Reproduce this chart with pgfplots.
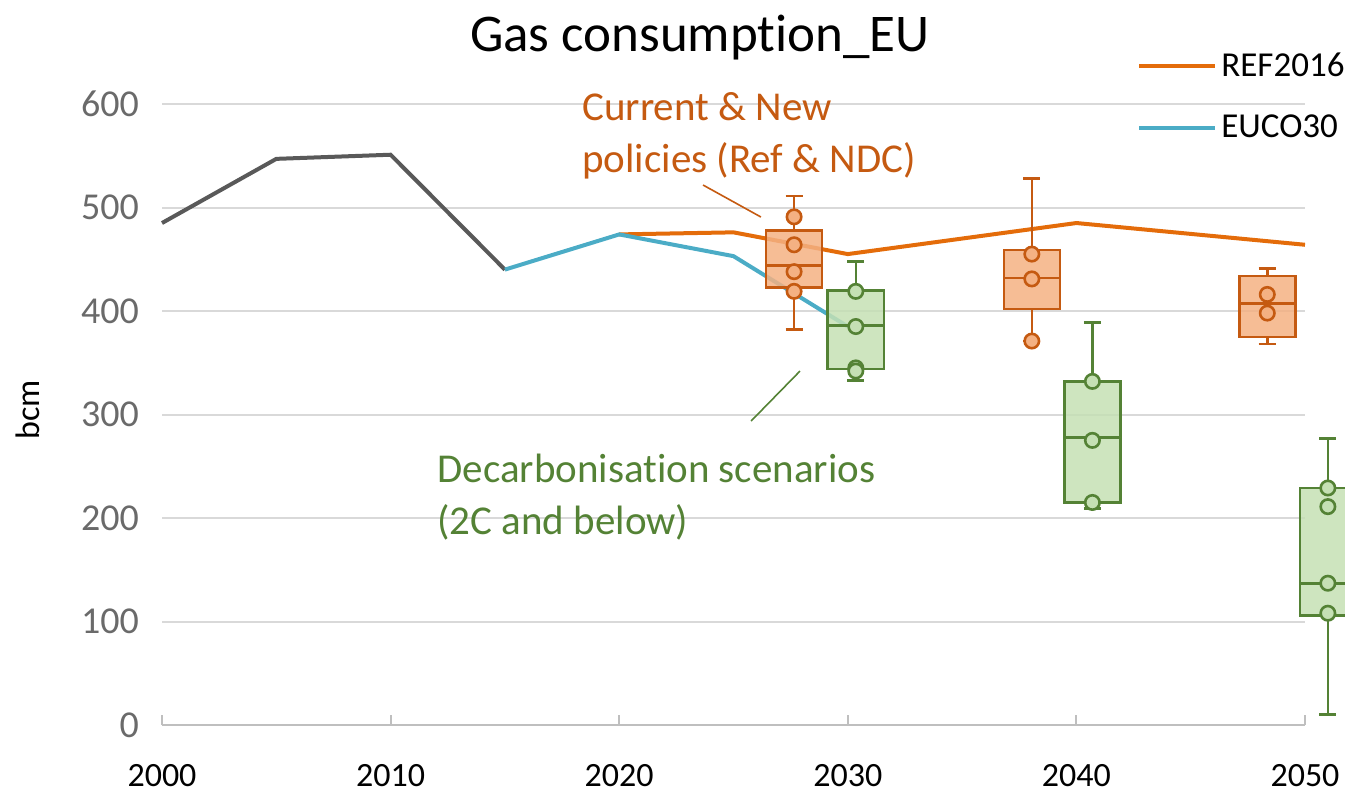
\documentclass[border=0pt]{standalone}
\usepackage{pgfplots}
\pgfplotsset{compat=1.18}
\usepgfplotslibrary{statistics}
\usepackage{fontspec}
\setmainfont{Carlito}[Ligatures={NoCommon,NoContextual,NoRequired}]
\definecolor{refline}{RGB}{228,108,10}
\definecolor{obox}{RGB}{197,90,17}
\definecolor{ofill}{RGB}{244,177,131}
\definecolor{gbox}{RGB}{84,130,53}
\definecolor{gfill}{RGB}{197,224,180}
\definecolor{eucol}{RGB}{75,172,198}
\definecolor{histc}{RGB}{89,89,89}
\definecolor{gridc}{RGB}{217,217,217}
\definecolor{axc}{RGB}{191,191,191}
\begin{document}
\begin{tikzpicture}
\begin{axis}[
  at={(81pt,34pt)}, anchor=south west,
  scale only axis, width=571.5pt, height=310.5pt,
  xmin=2000, xmax=2050, ymin=0, ymax=600,
  clip=false,
  axis lines*=left,
  axis line style={-},
  x axis line style={draw=axc, line width=1pt},
  y axis line style={draw=none},
  xtick={2000,2010,...,2050}, ytick={0,100,...,600},
  xtick align=inside, major tick length=5pt,
  xtick style={draw=axc, line width=1pt},
  ytick style={draw=none},
  ymajorgrids, grid style={gridc, line width=1pt},
  /pgf/number format/assume math mode=true,
  /pgf/number format/1000 sep={},
  xticklabel style={font=\fontsize{17}{17}\selectfont, text=black, yshift=-16pt},
  yticklabel style={font=\fontsize{19}{19}\selectfont, text=histc!90, xshift=-8pt},
  legend style={at={(rel axis cs:0.853,1.09)}, anchor=north west, draw=none, fill=none,
     font=\fontsize{17.5}{17.5}\selectfont, row sep=14pt, inner sep=0pt},
  legend cell align=left,
  legend image code/.code={\draw[#1] (0pt,0pt) -- (38pt,0pt);},
]
% historical
\addplot[histc, line width=2pt, forget plot] coordinates {(2000,485) (2005,547) (2010,551) (2015,440)};
\addplot[refline, line width=2pt] coordinates {(2020,474) (2025,476) (2030,455) (2040,485) (2050,464)};
\addlegendentry{REF2016}
\addplot[eucol, line width=2pt] coordinates {(2015,440) (2020,474) (2025,453) (2030,385)};
\addlegendentry{EUCO30}

% boxes
\pgfplotsset{
  obx/.style={draw=obox, fill=ofill, fill opacity=0.85, line width=1.3pt, forget plot},
  gbx/.style={draw=gbox, fill=gfill, fill opacity=0.85, line width=1.3pt, forget plot},
  omk/.style={only marks, mark=*, mark size=3.6pt, mark options={draw=obox, fill=ofill, line width=1.3pt}, forget plot},
  gmk/.style={only marks, mark=*, mark size=3.6pt, mark options={draw=gbox, fill=gfill, line width=1.3pt}, forget plot},
}
\addplot[obx, boxplot prepared={draw direction=y, draw position=2027.65, lower whisker=382, lower quartile=423, median=444, upper quartile=478, upper whisker=511, box extend=2.45, whisker extend=0.75}] coordinates {};
\addplot[omk] coordinates {(2027.65,491) (2027.65,464) (2027.65,438) (2027.65,419)};

\addplot[gbx, boxplot prepared={draw direction=y, draw position=2030.35, lower whisker=333, lower quartile=344, median=386, upper quartile=420, upper whisker=448, box extend=2.45, whisker extend=0.75}] coordinates {};
\addplot[gmk] coordinates {(2030.35,419) (2030.35,385) (2030.35,345) (2030.35,342)};

\addplot[obx, boxplot prepared={draw direction=y, draw position=2038.05, lower whisker=371, lower quartile=402, median=432, upper quartile=459, upper whisker=528, box extend=2.45, whisker extend=0.75}] coordinates {};
\addplot[omk] coordinates {(2038.05,455) (2038.05,431) (2038.05,371)};

\addplot[gbx, boxplot prepared={draw direction=y, draw position=2040.7, lower whisker=209, lower quartile=215, median=278, upper quartile=332, upper whisker=389, box extend=2.45, whisker extend=0.75}] coordinates {};
\addplot[gmk] coordinates {(2040.7,332) (2040.7,275) (2040.7,215)};

\addplot[obx, boxplot prepared={draw direction=y, draw position=2048.35, lower whisker=368, lower quartile=375, median=407, upper quartile=434, upper whisker=441, box extend=2.45, whisker extend=0.75}] coordinates {};
\addplot[omk] coordinates {(2048.35,416) (2048.35,398)};

\addplot[gbx, boxplot prepared={draw direction=y, draw position=2051.0, lower whisker=10, lower quartile=106, median=137, upper quartile=229, upper whisker=277, box extend=2.45, whisker extend=0.75}] coordinates {};
\addplot[gmk] coordinates {(2051.0,229) (2051.0,211) (2051.0,137) (2051.0,108)};

\draw[obox, line width=0.8pt] (axis cs:2023.67,521.7) -- (axis cs:2026.2,490.8);
\draw[gbox, line width=0.8pt] (axis cs:2027.91,342) -- (axis cs:2025.77,293.7);
\end{axis}
\node[anchor=base, font=\fontsize{26.5}{26.5}\selectfont] at (350pt,370.5pt) {Gas consumption\_EU};
\node[rotate=90, font=\fontsize{17}{17}\selectfont] at (14pt,191.5pt) {bcm};
\node[anchor=base west, inner sep=0pt, text=obox, font=\fontsize{20.5}{20.5}\selectfont] at (291pt,336pt) {Current \& New};
\node[anchor=base west, inner sep=0pt, text=obox, font=\fontsize{20.5}{20.5}\selectfont] at (291pt,310pt) {policies (Ref \& NDC)};
\node[anchor=base west, inner sep=0pt, text=gbox, font=\fontsize{20.5}{20.5}\selectfont] at (218.5pt,155pt) {Decarbonisation scenarios};
\node[anchor=base west, inner sep=0pt, text=gbox, font=\fontsize{20.5}{20.5}\selectfont] at (218.5pt,129pt) {(2C and below)};
\pgfresetboundingbox
\path[use as bounding box] (0,0) rectangle (672.5pt,396.5pt);
\end{tikzpicture}
\end{document}
